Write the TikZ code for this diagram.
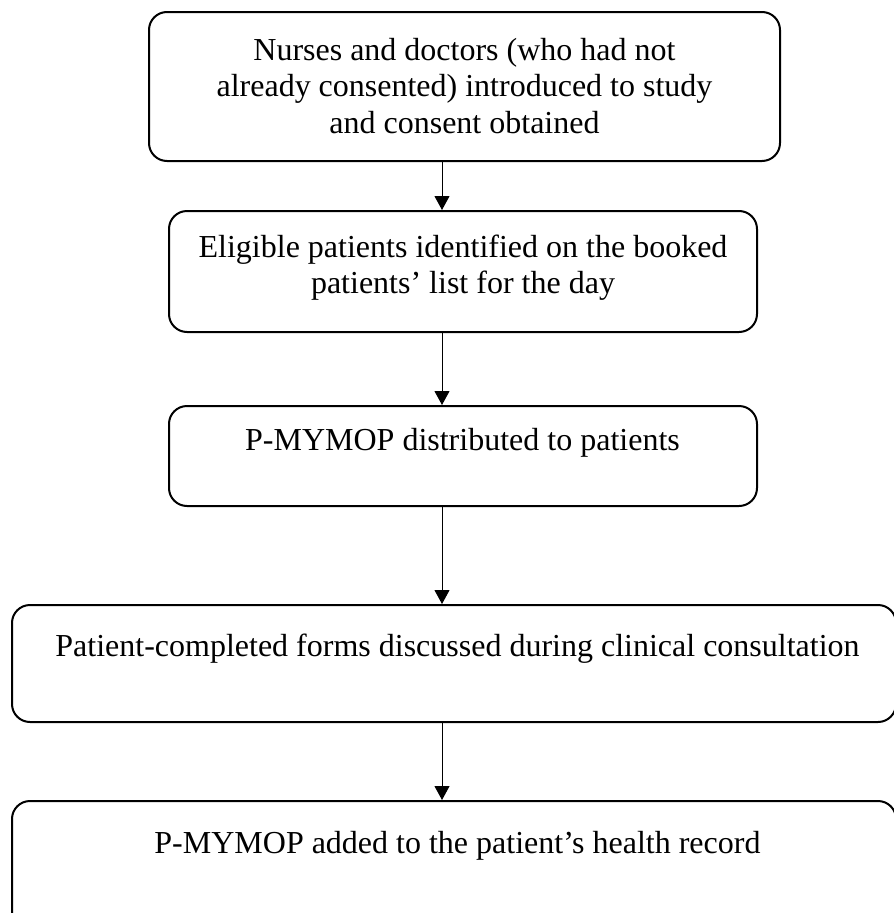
\documentclass[tikz,border=0pt]{standalone}
\usepackage{fontspec}
\setmainfont{Liberation Serif}
\usetikzlibrary{arrows.meta}
\begin{document}
\begin{tikzpicture}[x=1pt,y=-1pt,
  box/.style={draw=black, line width=2pt, rounded corners=18pt, inner sep=0pt},
  txt/.style={inner sep=0pt, anchor=base, text width=700pt, align=flush center, font=\fontsize{32}{36.8}\selectfont},
  arr/.style={draw=black, line width=1pt, -{Triangle[length=14pt,width=15pt]}}]
\useasboundingbox (0,0) rectangle (894,913);
\clip (0,0) rectangle (894,913);
\node[box, minimum width=631pt, minimum height=149pt] (b1) at (464.5,86.5) {};
\node[box, minimum width=588pt, minimum height=121pt] (b2) at (463,271.5) {};
\node[box, minimum width=588pt, minimum height=100pt] (b3) at (463,456) {};
\node[box, minimum width=884pt, minimum height=117pt] (b4) at (454,663.5) {};
\node[box, minimum width=884pt, minimum height=129pt] (b5) at (454,865.5) {};
\node[txt] (t1) at (464.5,60) {Nurses and doctors (who had not\\already consented) introduced to study\\and consent obtained};
\node[txt] (t2) at (463,257) {Eligible patients identified on the booked\\patients’ list for the day};
\node[txt] (t3) at (462.5,450) {P-MYMOP distributed to patients};
\node[txt, text width=880pt] (t4) at (457.5,656) {Patient-completed forms discussed during clinical consultation};
\node[txt] (t5) at (457.5,853) {P-MYMOP added to the patient’s health record};
\coordinate (ax) at (442,0);
\draw[arr] (b1.south -| ax) -- (b2.north -| ax);
\draw[arr] (b2.south -| ax) -- (b3.north -| ax);
\draw[arr] (b3.south -| ax) -- (b4.north -| ax);
\draw[arr] (b4.south -| ax) -- (b5.north -| ax);
\end{tikzpicture}
\end{document}
